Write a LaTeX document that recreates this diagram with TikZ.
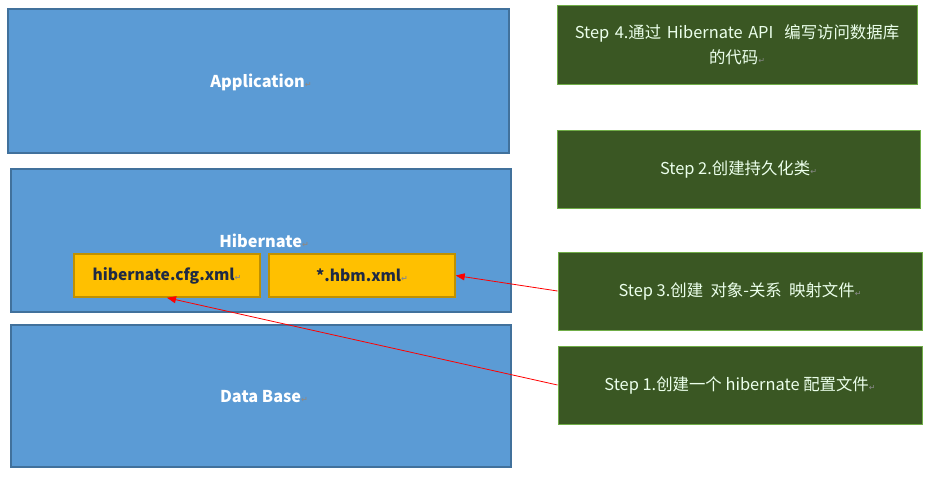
\documentclass[tikz,border=0pt]{standalone}
\usepackage{fontspec}
\setmainfont{Noto Sans CJK SC}
\newfontfamily\symfont{DejaVu Sans}
\usetikzlibrary{arrows.meta}
\definecolor{layerblue}{HTML}{5B9BD5}
\definecolor{layerborder}{HTML}{41719C}
\definecolor{fileorange}{HTML}{FFC000}
\definecolor{fileborder}{HTML}{BF9000}
\definecolor{stepgreen}{HTML}{3A5723}
\definecolor{stepborder}{HTML}{70AD47}
\definecolor{filetext}{HTML}{1F2A44}
\definecolor{markgray}{HTML}{8A8A8A}
\newcommand{\pmark}{{\symfont\fontsize{8}{9}\selectfont\textcolor{markgray}{↵}}}
\tikzset{
  layerbox/.style={draw=layerborder, line width=1.5pt, fill=layerblue, inner sep=0pt},
  layertext/.style={text=white, font=\fontsize{16.3}{19}\selectfont\bfseries, inner sep=0pt},
  filebox/.style={draw=fileborder, line width=1.5pt, fill=fileorange, inner sep=0pt, text=filetext, font=\fontsize{15.6}{18}\selectfont\bfseries},
  stepbox/.style={draw=stepborder, line width=1pt, fill=stepgreen, inner sep=0pt, text=white!92!green, font=\fontsize{16.4}{25}\selectfont, align=center},
  redarrow/.style={draw=red, line width=0.8pt, -{Triangle[length=9pt,width=7pt]}}
}
\begin{document}
\begin{tikzpicture}[x=1pt,y=-1pt]
\useasboundingbox (0,0) rectangle (930,477);
% layers
\node[layerbox, minimum width=501pt, minimum height=144pt] (app) at (258.5,81) {};
\node[layertext] (applabel) at (261,82) {Application\pmark};
\node[layerbox, minimum width=500pt, minimum height=143pt] (hib) at (261,240.5) {};
\node[layertext] (hiblabel) at (264,241) {Hibernate\pmark};
\node[layerbox, minimum width=500pt, minimum height=142pt] (db) at (261,396) {};
\node[layertext] (dblabel) at (264,397) {Data Base\pmark};
% files
\node[filebox, minimum width=186pt, minimum height=43pt] (cfg) at (167,275.5) {hibernate.cfg.xml\pmark};
\node[filebox, minimum width=186pt, minimum height=43pt] (hbm) at (362,275.5) {*.hbm.xml\pmark};
% steps
\node[stepbox, minimum width=360pt, minimum height=79pt, text width=350pt] (s4) at (737,44.5) {Step 4.通过 Hibernate API \ 编写访问数据库\\的代码\pmark};
\node[stepbox, minimum width=363pt, minimum height=78pt] (s2) at (738.5,169) {Step 2.创建持久化类\pmark};
\node[stepbox, minimum width=364pt, minimum height=78pt] (s3) at (740,291) {Step 3.创建 \ 对象-关系 \ 映射文件\pmark};
\node[stepbox, minimum width=364pt, minimum height=78pt] (s1) at (740,385) {Step 1.创建一个 hibernate 配置文件\pmark};
% arrows
\draw[redarrow] (s3.west) -- (hbm.east);
\draw[redarrow] (s1.west) -- (cfg.south);
\end{tikzpicture}
\end{document}
